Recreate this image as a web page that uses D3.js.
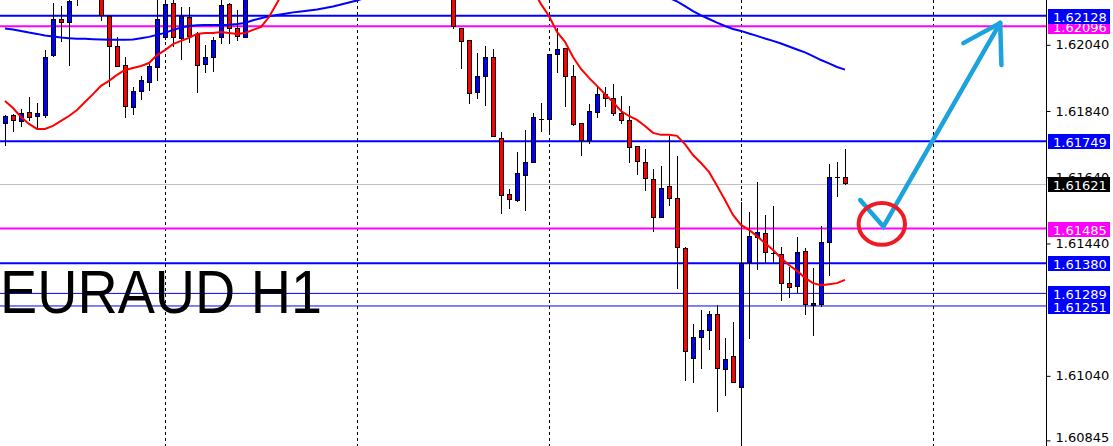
<!DOCTYPE html>
<html><head><meta charset="utf-8">
<script src="https://cdn.jsdelivr.net/npm/d3@7"></script>
<style>html,body{margin:0;padding:0;background:#fff;overflow:hidden}</style>
</head><body>
<svg id="c" width="1113" height="446"></svg>
<script>
// ---------- DATA ----------
const title = "EURAUD H1";
const open = [1.61802,1.61827,1.61810,1.61836,1.61824,1.61830,1.62008,1.62117,1.62108,1.62200,
 null,null,1.62190,1.62127,1.62035,1.61978,1.61851,1.61900,1.61927,1.61974,
 1.62062,1.62165,1.62062,1.62125,1.62072,1.61981,1.62002,1.62062,1.62162,1.62091,
 1.62065, ...Array(25).fill(null),
 1.62200,1.62092,1.62054,1.61897,1.61945,1.62002,1.61758,1.61588,1.61570,1.61646,
 1.61686,1.61817,1.61815,1.62011,1.62030,1.61945,1.61803,1.61753,1.61836,1.61891,
 1.61878,1.61834,1.61813,1.61733,1.61685,1.61635,1.61519,1.61613,1.61576,1.61425,
 1.61093,1.61158,1.61178,1.61226,1.61060,1.61099,1.61007,1.61382,1.61459,1.61471,
 1.61410,1.61409,1.61320,1.61311,1.61416,1.61253,1.61256,1.61443,1.61640,1.61640];
const high = [1.61828,1.61831,1.61845,1.61882,1.61863,1.62024,1.62165,1.62157,1.62190,1.62215,
 null,null,1.62200,1.62127,1.62063,1.62003,1.61912,1.61945,1.61987,1.62180,
 1.62185,1.62180,1.62153,1.62155,1.62079,1.62039,1.62065,1.62185,1.62165,1.62145,
 1.62210, ...Array(25).fill(null),
 1.62205,1.62092,1.62054,1.62014,1.62036,1.62027,1.61778,1.61604,1.61715,1.61783,
 1.61833,1.61863,1.62011,1.62090,1.62030,1.61979,1.61803,1.61861,1.61914,1.61914,
 1.61923,1.61885,1.61855,1.61733,1.61726,1.61666,1.61674,1.61765,1.61704,1.61430,
 1.61197,1.61239,1.61236,1.61254,1.61154,1.61202,1.61566,1.61535,1.61625,1.61525,
 1.61552,1.61428,1.61368,1.61459,1.61425,1.61365,1.61492,1.61679,1.61685,1.61724];
const low = [1.61735,1.61778,1.61793,1.61811,1.61790,1.61818,1.62003,1.62049,1.61977,1.62158,
 null,null,1.62113,1.61914,1.61972,1.61818,1.61827,1.61874,1.61900,1.61930,
 1.62055,1.62034,1.61994,1.62045,1.61895,1.61954,1.61957,1.62042,1.62042,1.62052,
 1.62060, ...Array(25).fill(null),
 1.62087,1.61968,1.61860,1.61877,1.61856,1.61762,1.61530,1.61543,1.61566,1.61539,
 1.61684,1.61778,1.61778,1.61956,1.61853,1.61796,1.61705,1.61740,1.61818,1.61853,
 1.61826,1.61802,1.61682,1.61646,1.61598,1.61475,1.61519,1.61554,1.61303,1.61025,
 1.61019,1.61062,1.61119,1.60932,1.60980,1.61017,1.60829,1.61151,1.61361,1.61382,
 1.61382,1.61267,1.61276,1.61289,1.61225,1.61159,1.61247,1.61343,1.61581,1.61616];
const close = [1.61824,1.61812,1.61835,1.61821,1.61833,1.62004,1.62117,1.62108,1.62171,1.62190,
 null,null,1.62130,1.62036,1.61975,1.61854,1.61900,1.61933,1.61975,1.62118,
 1.62163,1.62062,1.62128,1.62068,1.61978,1.62002,1.62054,1.62160,1.62089,1.62067,
 1.62195, ...Array(25).fill(null),
 1.62098,1.62054,1.61894,1.61945,1.62002,1.61764,1.61585,1.61573,1.61652,1.61685,
 1.61821,1.61817,1.62011,1.62027,1.61945,1.61799,1.61753,1.61840,1.61891,1.61878,
 1.61832,1.61812,1.61730,1.61689,1.61638,1.61519,1.61607,1.61576,1.61428,1.61113,
 1.61156,1.61178,1.61226,1.61063,1.61090,1.61021,1.61381,1.61462,1.61474,1.61413,
 1.61410,1.61320,1.61308,1.61413,1.61256,1.61259,1.61443,1.61640,1.61640,1.61621];
const maFast = [1.61870,1.61849,1.61822,1.61801,1.61786,1.61786,1.61795,1.61810,1.61825,1.61843,
 1.61867,1.61891,1.61916,1.61931,1.61949,1.61964,1.61970,1.61976,1.61985,1.62009,
 1.62024,1.62042,1.62052,1.62061,1.62073,1.62076,1.62076,1.62079,1.62076,1.62073,
 1.62076,1.62085,1.62094,1.62124,1.62166,1.62212, ...Array(30).fill(null),
 1.62206,1.62163,1.62127,1.62079,
 1.62049,1.62003,1.61967,1.61940,1.61916,1.61891,1.61867,1.61840,1.61825,1.61813,
 1.61795,1.61774,1.61768,1.61768,1.61765,1.61740,1.61707,1.61683,1.61656,1.61614,
 1.61571,1.61526,1.61496,1.61481,1.61462,1.61441,1.61420,1.61396,1.61375,1.61357,
 1.61336,1.61320,1.61314,1.61317,1.61320,1.61330];
const maSlow = [1.62089,1.62086,1.62082,1.62077,1.62073,1.62068,1.62065,1.62062,1.62060,1.62058,
 1.62058,1.62057,1.62056,1.62055,1.62055,1.62055,1.62056,1.62060,1.62064,1.62070,
 1.62076,1.62085,1.62092,1.62097,1.62099,1.62100,1.62100,1.62100,1.62101,1.62103,
 1.62106,1.62114,1.62120,1.62126,1.62130,1.62134,1.62138,1.62141,1.62144,1.62147,
 1.62151,1.62156,1.62162,1.62168,1.62174,1.62182, ...Array(37).fill(null),
 1.62182,1.62171,1.62157,1.62142,1.62129,1.62118,1.62107,
 1.62097,1.62088,1.62082,1.62074,1.62067,1.62059,1.62052,1.62044,1.62035,1.62026,
 1.62017,1.62006,1.61994,1.61984,1.61973,1.61965];
const tickValues = [1.62040,1.61840,1.61640,1.61440,1.61040,1.60845];
const levelPrices = [1.62128,1.62096,1.61749,1.61485,1.61380,1.61289,1.61251];
const levelKinds  = ["blue","magenta","blue","magenta","blue","thin","thin"];
const lastPrice = 1.61621;
const gridBars = [20,44,68,92,116];
const arrowBars = [106.9,109.8,124.4];
const arrowPrices = [1.61571,1.61491,1.62106];
const circleBar = 109.6, circlePrice = 1.61499, circleBarsR = 2.9, circlePriceR = 0.00063;

// ---------- LAYOUT / SCALES ----------
const W=1113,H=446, axisX=1046;
const x = d3.scaleLinear().domain([0,105]).range([5,845]);
const y = d3.scaleLinear().domain([1.60828,1.621754]).range([H,0]);
const svg = d3.select("#c");
svg.append("rect").attr("width",W).attr("height",H).attr("fill","#fff");
svg.append("defs").append("clipPath").attr("id","plot").append("rect")
  .attr("x",0).attr("y",0).attr("width",axisX).attr("height",H);
const plot = svg.append("g").attr("clip-path","url(#plot)");
const styles = {blue:{c:"#0000ff",w:2}, magenta:{c:"#ff00ff",w:2}, thin:{c:"#0000ff",w:1}};

// grid
plot.selectAll("line.grid").data(gridBars).join("line")
  .attr("x1",d=>Math.round(x(d))+0.5).attr("x2",d=>Math.round(x(d))+0.5)
  .attr("y1",0).attr("y2",H).attr("stroke","#000").attr("stroke-width",1)
  .attr("stroke-dasharray","3,3");

// last price line
plot.append("line").attr("x1",0).attr("x2",axisX)
  .attr("y1",Math.round(y(lastPrice))+0.5).attr("y2",Math.round(y(lastPrice))+0.5)
  .attr("stroke","#c0c0c0").attr("stroke-width",1);

// level lines
plot.selectAll("line.lvl").data(levelPrices).join("line")
  .attr("x1",0).attr("x2",axisX)
  .attr("y1",d=>y(d)).attr("y2",d=>y(d))
  .attr("stroke",(d,i)=>styles[levelKinds[i]].c)
  .attr("stroke-width",(d,i)=>styles[levelKinds[i]].w);

// candles
const bars = d3.range(open.length).filter(i=>open[i]!=null);
const cg = plot.append("g").attr("shape-rendering","crispEdges");
cg.selectAll("line.wick").data(bars).join("line")
  .attr("x1",i=>x(i)+0.5).attr("x2",i=>x(i)+0.5)
  .attr("y1",i=>y(high[i])).attr("y2",i=>y(low[i]))
  .attr("stroke","#000").attr("stroke-width",1);
cg.selectAll("rect.body").data(bars.filter(i=>open[i]!==close[i])).join("rect")
  .attr("x",i=>x(i)-1.5).attr("width",4)
  .attr("y",i=>Math.round(y(Math.max(open[i],close[i])))+0.5)
  .attr("height",i=>Math.max(1,Math.round(Math.abs(y(open[i])-y(close[i])))))
  .attr("fill",i=>close[i]>open[i]?"#0000ff":"#ff0000")
  .attr("stroke","#000").attr("stroke-width",1);
cg.selectAll("line.doji").data(bars.filter(i=>open[i]===close[i])).join("line")
  .attr("x1",i=>x(i)-2).attr("x2",i=>x(i)+3)
  .attr("y1",i=>Math.round(y(open[i]))+0.5).attr("y2",i=>Math.round(y(open[i]))+0.5)
  .attr("stroke","#000").attr("stroke-width",1);

// moving averages
const maLine = arr => d3.line().defined(i=>arr[i]!=null).x(i=>x(i)).y(i=>y(arr[i]))(d3.range(arr.length));
plot.append("path").attr("d",maLine(maSlow)).attr("fill","none").attr("stroke","#0000ff").attr("stroke-width",2);
plot.append("path").attr("d",maLine(maFast)).attr("fill","none").attr("stroke","#ff0000").attr("stroke-width",2);

// title
svg.append("text").attr("x",0).attr("y",313).text(title)
  .attr("font-family","Liberation Sans, Arial, sans-serif").attr("font-size",62).attr("fill","#000")
  .attr("textLength",322).attr("lengthAdjust","spacingAndGlyphs");

// annotations
const ap = arrowBars.map((b,i)=>[x(b),y(arrowPrices[i])]);
const tip = ap[ap.length-1], prev = ap[ap.length-2];
const ang = Math.atan2(prev[1]-tip[1], prev[0]-tip[0]);
const headLen = 42, spread = 0.55;
const arrowCol = "#1ca3de";
svg.append("path").attr("d",d3.line()(ap)).attr("fill","none").attr("stroke",arrowCol)
  .attr("stroke-width",4.5).attr("stroke-linejoin","miter").attr("stroke-linecap","round");
[ang-spread, ang+spread].forEach(a=>{
  svg.append("line").attr("x1",tip[0]).attr("y1",tip[1])
    .attr("x2",tip[0]+headLen*Math.cos(a)).attr("y2",tip[1]+headLen*Math.sin(a))
    .attr("stroke",arrowCol).attr("stroke-width",4.5).attr("stroke-linecap","round");
});
svg.append("ellipse").attr("cx",x(circleBar)).attr("cy",y(circlePrice))
  .attr("rx",x(circleBar+circleBarsR)-x(circleBar))
  .attr("ry",y(circlePrice-circlePriceR)-y(circlePrice))
  .attr("fill","none").attr("stroke","#ed1c24").attr("stroke-width",4);

// right axis
const axis = d3.axisRight(y).tickValues(tickValues).tickFormat(d3.format(".5f")).tickSize(4).tickPadding(5);
const ag = svg.append("g").attr("transform",`translate(${axisX+0.5},0)`).call(axis);
ag.select(".domain").attr("stroke","#000").attr("d",`M0,0V${H}`);
ag.selectAll("text").attr("font-family","DejaVu Sans, Verdana, sans-serif").attr("font-size",13).attr("fill","#000");
ag.selectAll("line").attr("stroke","#000");
ag.selectAll(".tick").filter(d=>d===tickValues[tickValues.length-1]).select("text").attr("dy","0.1em");

// price label boxes (drawn bottom-up so upper labels sit on top, as in the reference)
const labels = levelPrices.map((p,i)=>({p, c:styles[levelKinds[i]].c}));
labels.push({p:lastPrice, c:"#000"});
labels.sort((a,b)=>a.p-b.p);
const lg = svg.append("g");
labels.forEach(l=>{
  const yy = Math.round(y(l.p));
  lg.append("rect").attr("x",axisX+2).attr("y",yy-7).attr("width",W-axisX-5).attr("height",15).attr("fill",l.c);
  lg.append("text").attr("x",axisX+7).attr("y",yy+1).attr("dy","0.35em").text(d3.format(".5f")(l.p))
    .attr("font-family","DejaVu Sans, Verdana, sans-serif").attr("font-size",13).attr("fill","#fff");
});
</script>
</body></html>
